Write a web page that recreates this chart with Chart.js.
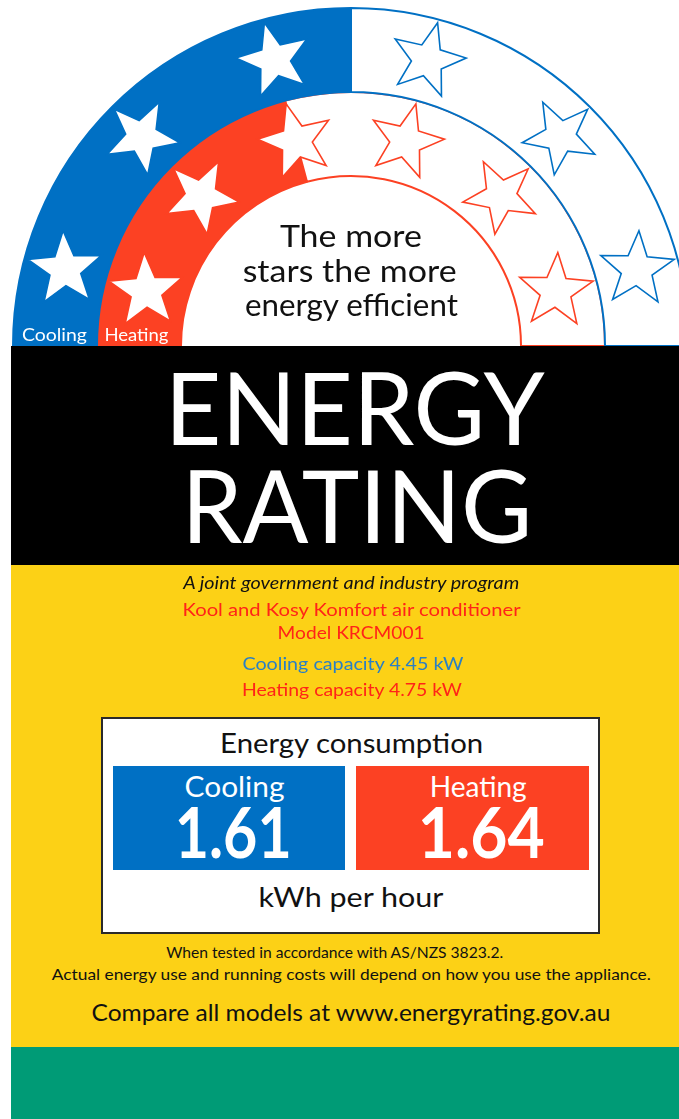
<!DOCTYPE html>
<html>
<head>
<meta charset="utf-8">
<script src="https://cdn.jsdelivr.net/npm/chart.js@4.4.1/dist/chart.umd.min.js"></script>
<style>
  body { margin: 0; background: #fff; font-family: Lato, "Open Sans", sans-serif; }
  #label { position: absolute; left: 11px; top: 0; width: 668px; height: 1119px; overflow: hidden; }
  #stars { position: absolute; left: -4px; top: 3px; }
  .band { position: absolute; left: 0; width: 668px; }
  .t { position: absolute; text-align: center; white-space: nowrap; line-height: 1.2; }
  .t span { display: inline-block; transform-origin: 50% 50%; }
  .box { position: absolute; box-sizing: border-box; }
</style>
</head>
<body>
<div id="label">
  <canvas id="stars" width="688" height="344"></canvas>
  <div class="band" style="top:346px;height:219px;background:#000"></div>
  <div class="band" style="top:565px;height:482px;background:#fcd116"></div>
  <div class="band" style="top:1047px;height:72px;background:#009b76"></div>
  <div class="box" style="left:90px;top:717px;width:499px;height:217px;background:#fff;border:2px solid #2a2a2a"></div>
  <div class="box" id="coolBox" style="left:102px;top:766px;width:232px;height:104px;background:#0070c4"></div>
  <div class="box" id="heatBox" style="left:345px;top:766px;width:233px;height:104px;background:#fc4123"></div>
</div>

<script>
// star ratings (out of 6) read from the arcs
const ratingCategories = ["Cooling", "Heating"];
const starsAwarded = [3, 2.5];
const starsMax = 6;
const ringColors = ["#0070c4", "#fc4123"];

// numbers printed on the label
const capacityKW = ["4.45", "4.75"];
const consumption = ["1.61", "1.64"];

const label = document.getElementById("label");

// x offset of the label on the page
const OX = 11;

function addText(txt, cx, baseline, size, opts) {
    opts = opts || {};
    const div = document.createElement("div");
    div.className = "t";
    div.style.left = (cx - OX - 400) + "px";
    div.style.width = "800px";
    div.style.fontSize = size + "px";
    div.style.color = opts.color || "#111";
    if (opts.bold) div.style.fontWeight = "bold";
    if (opts.italic) div.style.fontStyle = "italic";
    const span = document.createElement("span");
    span.textContent = txt;
    div.appendChild(span);
    label.appendChild(div);

    const probe = document.createElement("i");
    probe.style.cssText = "display:inline-block;width:0;height:0;vertical-align:baseline";
    div.prepend(probe);
    div.style.top = (baseline - probe.offsetTop) + "px";
    probe.remove();

    if (opts.width) {
        const w = span.getBoundingClientRect().width;
        span.style.transform = "scaleX(" + (opts.width / w) + ")";
    }
}

addText("The more", 351, 247, 31, { width: 142 });
addText("stars the more", 350, 282, 31, { width: 214 });
addText("energy efficient", 351, 316, 31, { width: 213 });

addText(ratingCategories[0], 54.5, 341, 17, { color: "#fff", width: 65 });
addText(ratingCategories[1], 136, 341, 17, { color: "#fff", width: 64 });

addText("ENERGY", 355, 445, 100, { color: "#fff", width: 380 });
addText("RATING", 357, 543, 100, { color: "#fff", width: 351 });

addText("A joint government and industry program", 351, 589, 17, { italic: true, width: 336 });
addText("Kool and Kosy Komfort air conditioner", 352, 616, 18, { color: "#ff2418", width: 338 });
addText("Model KRCM001", 351.5, 639, 18, { color: "#ff2418", width: 147 });
addText(ratingCategories[0] + " capacity " + capacityKW[0] + " kW", 352.5, 670, 18, { color: "#2a7fc4", width: 221 });
addText(ratingCategories[1] + " capacity " + capacityKW[1] + " kW", 352, 696, 18, { color: "#ff2418", width: 220 });

addText("Energy consumption", 351.5, 753, 26, { width: 263 });
addText(ratingCategories[0], 235, 797, 29, { color: "#fff", width: 100 });
addText(consumption[0], 233.5, 858, 71, { color: "#fff", bold: true, width: 117 });
addText(ratingCategories[1], 478.5, 797, 29, { color: "#fff", width: 97 });
addText(consumption[1], 481.5, 858, 71, { color: "#fff", bold: true, width: 127 });
addText("kWh per hour", 350.5, 907, 27, { width: 185 });

addText("When tested in accordance with AS/NZS 3823.2.", 334.5, 958, 15, { width: 337 });
addText("Actual energy use and running costs will depend on how you use the appliance.", 351.5, 980, 15, { width: 599 });
addText("Compare all models at www.energyrating.gov.au", 351.5, 1021, 23, { width: 519 });

// stars drawn on top of each ring, one per rating step
const starPlugin = {
    id: "stars",
    afterDatasetsDraw(chart) {
        const ctx = chart.ctx;
        chart.data.datasets.forEach((ds, d) => {
            const arc = chart.getDatasetMeta(d).data[0];
            const mid = (arc.innerRadius + arc.outerRadius) / 2;
            const size = (arc.outerRadius - arc.innerRadius) * 0.46;
            for (let i = 0; i < starsMax; i++) {
                const a = -Math.PI + (i + 0.5) * Math.PI / starsMax;
                const cx = arc.x + mid * Math.cos(a);
                const cy = arc.y + mid * Math.sin(a);
                ctx.beginPath();
                for (let k = 0; k < 10; k++) {
                    const r = k % 2 === 0 ? size : size * 0.42;
                    const b = a + k * Math.PI / 5;
                    ctx.lineTo(cx + r * Math.cos(b), cy + r * Math.sin(b));
                }
                ctx.closePath();
                ctx.fillStyle = "#fff";
                ctx.fill();
                ctx.lineWidth = 1.6;
                ctx.strokeStyle = ringColors[d];
                ctx.stroke();
            }
        });
    }
};

new Chart(document.getElementById("stars"), {
    type: "doughnut",
    data: {
        labels: ["Awarded", "Remaining"],
        datasets: ratingCategories.map((name, i) => ({
            label: name,
            data: [starsAwarded[i], starsMax - starsAwarded[i]],
            backgroundColor: [ringColors[i], "#fff"],
            borderColor: [ringColors[i], ringColors[i]],
            borderWidth: 2
        }))
    },
    options: {
        responsive: false,
        animation: false,
        devicePixelRatio: 1,
        events: [],
        rotation: -90,
        circumference: 180,
        cutout: "50.3%",
        layout: { padding: { left: 4, right: 4, top: 4, bottom: 0 } },
        plugins: { legend: { display: false }, tooltip: { enabled: false } }
    },
    plugins: [starPlugin]
});
</script>
</body>
</html>
